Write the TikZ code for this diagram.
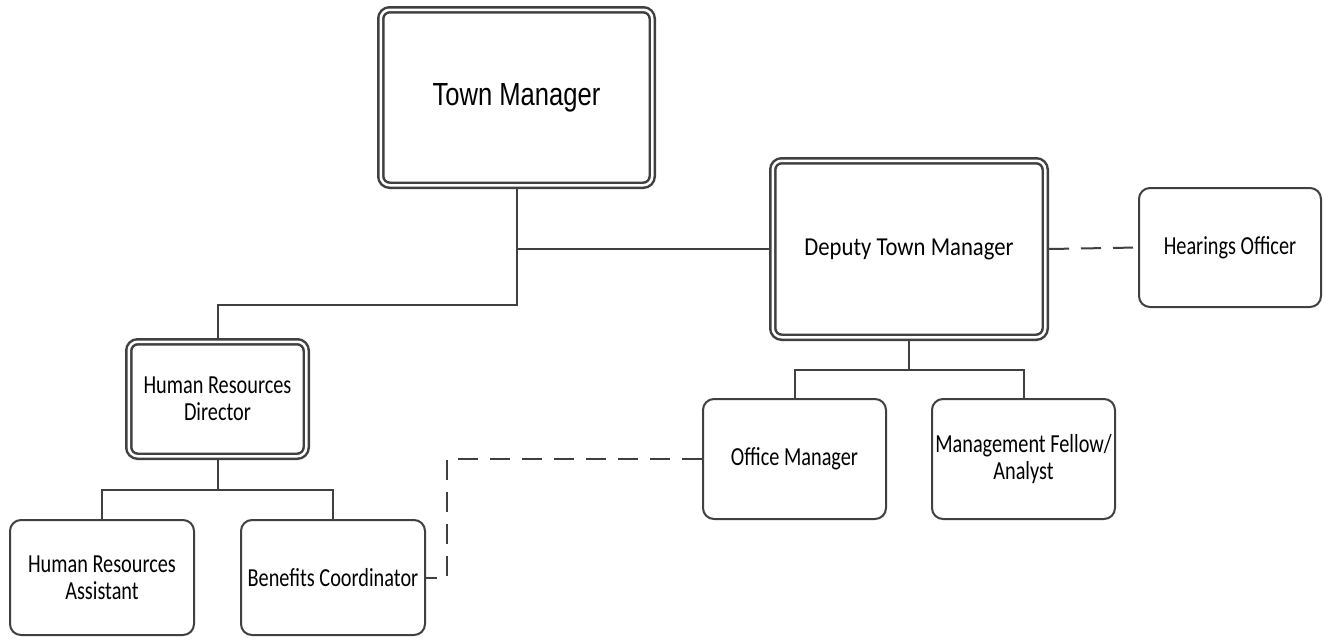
\documentclass[tikz,border=0pt]{standalone}
\usepackage{fontspec}
\setmainfont{Carlito}[FakeStretch=0.78]
\newfontfamily\deputyfont{Carlito}[FakeStretch=0.88]
\newfontfamily\arialfont{Liberation Sans}[FakeStretch=0.8]
\definecolor{boxline}{HTML}{404040}
\begin{document}
\begin{tikzpicture}[x=1pt,y=-1pt,
    box/.style={draw=boxline,line width=2pt,rounded corners=11pt,fill=white,
      align=center,inner sep=0pt,font=\fontsize{26}{27}\selectfont},
    dbox/.style={box,double=white,line width=2.5pt,double distance=2.5pt,
      outer sep=3.75pt,rounded corners=9pt},
    link/.style={draw=boxline,line width=2pt},
    dashlink/.style={link,dash pattern=on 20pt off 12pt}]
  \useasboundingbox (0,0) rectangle (1323,640);
  \node[dbox,minimum width=271.5pt,minimum height=175.5pt,
    font=\arialfont\fontsize{32}{36}\selectfont] (tm) at (516.5,97.5) {Town Manager};
  \node[dbox,minimum width=272.5pt,minimum height=176.5pt,
    font=\deputyfont\fontsize{25.8}{30}\selectfont] (dtm) at (909,249) {Deputy Town Manager};
  \node[dbox,minimum width=177.5pt,minimum height=114.5pt] (hrd) at (217.5,399) {Human Resources\\Director};
  \node[box,minimum width=182pt,minimum height=119pt] (ho) at (1230,247.5) {Hearings Officer};
  \node[box,minimum width=183pt,minimum height=120pt] (om) at (794.5,459) {Office Manager};
  \node[box,minimum width=183pt,minimum height=120pt] (mf) at (1023.5,459) {Management Fellow/\\Analyst};
  \node[box,minimum width=184pt,minimum height=115pt] (hra) at (102,577.5) {Human Resources\\Assistant};
  \node[box,minimum width=184pt,minimum height=115pt] (bc) at (333,577.5) {Benefits Coordinator};
  \coordinate (tmjoin) at (516.5,305);
  \coordinate (dtmjoin) at (909,370);
  \coordinate (hrdjoin) at (217.5,490);
  \coordinate (omturn) at (447,459);
  \draw[link] (tm.south) -- (tmjoin) -| (hrd.north);
  \draw[link] (tm.south |- dtm.west) -- (dtm.west);
  \draw[dashlink] (dtm.east) -- (ho.west);
  \draw[link] (dtm.south) -- (dtmjoin) -| (om.north);
  \draw[link] (dtmjoin) -| (mf.north);
  \draw[link] (hrd.south) -- (hrdjoin) -| (hra.north);
  \draw[link] (hrdjoin) -| (bc.north);
  \draw[dashlink] (om.west) -- (omturn) |- (bc.east);
\end{tikzpicture}
\end{document}
